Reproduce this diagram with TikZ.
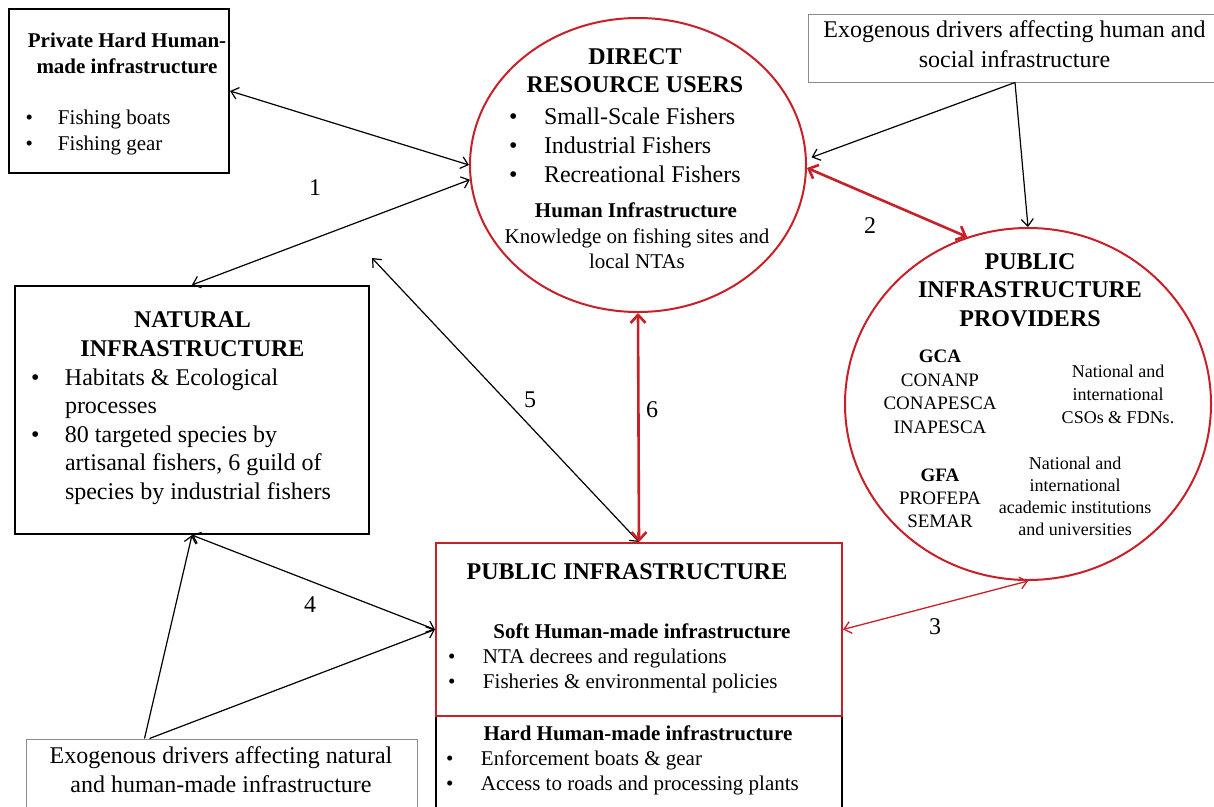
\documentclass[tikz,border=0pt]{standalone}
\usepackage{fontspec}
\setmainfont{Liberation Serif}
\usetikzlibrary{arrows.meta,shapes.geometric,calc}
\definecolor{dred}{RGB}{200,32,40}
\definecolor{bgray}{RGB}{140,140,140}
\newcommand\setfs[2]{\fontsize{#1}{#2}\selectfont}
\newcommand\bulletbox[1]{\makebox[#1][l]{•}}
\begin{document}
\begin{tikzpicture}[x=1pt,y=-1pt,
  thickbox/.style={draw=black,line width=2.2pt,inner sep=0pt,rectangle},
  thinbox/.style={draw=bgray,line width=1pt,inner sep=0pt,rectangle},
  redell/.style={draw=dred,line width=2pt,ellipse,inner sep=0pt},
  txt/.style={inner sep=0pt,outer sep=0pt},
  num/.style={inner sep=0pt,font=\setfs{24}{28}},
  barrow/.style={draw=black,line width=1.2pt,{Straight Barb[length=7pt,width=12pt]}-{Straight Barb[length=7pt,width=12pt]}},
  sarrow/.style={draw=black,line width=1.2pt,-{Straight Barb[length=7pt,width=12pt]}},
  rthick/.style={draw=dred,line width=2.6pt,{Straight Barb[length=8pt,width=15pt]}-{Straight Barb[length=8pt,width=15pt]}},
  rthin/.style={draw=dred,line width=1.3pt,{Straight Barb[length=7pt,width=12pt]}-{Straight Barb[length=7pt,width=12pt]}}
]
\useasboundingbox (0,0) rectangle (1214,806);
\clip (0,0) rectangle (1214,806);
\fill[white] (0,0) rectangle (1214,806);

% shapes
\node[thickbox,minimum width=220pt,minimum height=164pt] (priv) at (119,91) {};
\node[thickbox,minimum width=354pt,minimum height=248pt] (nat) at (192,410) {};
\node[draw=black,line width=2pt,inner sep=0pt,minimum width=406pt,minimum height=114pt] (hard) at (639,773) {};
\node[draw=dred,line width=2pt,inner sep=0pt,fill=white,minimum width=406pt,minimum height=173pt] (pub) at (639,629.5) {};
\node[thinbox,minimum width=414pt,minimum height=68pt] (exoT) at (1015,48) {};
\node[thinbox,minimum width=391pt,minimum height=91pt] (exoB) at (221.5,784.5) {};
\node[redell,minimum width=336pt,minimum height=294pt] (dru) at (638,165) {};
\node[redell,minimum width=366pt,minimum height=352pt] (pip) at (1028,404) {};

% texts: private box
\node[txt,anchor=north,align=center,font=\bfseries\setfs{21}{26}] (privT) at (127,32.5) {Private Hard Human-\\made infrastructure};
\node[txt,anchor=north west,align=left,font=\setfs{21}{26}] (privL) at (25.5,109.5) {\bulletbox{32.5pt}Fishing boats\\\bulletbox{32.5pt}Fishing gear};

% direct resource users
\node[txt,anchor=north,align=center,font=\bfseries\setfs{24}{28}] (druT) at (635,48.5) {DIRECT\\RESOURCE USERS};
\node[txt,anchor=north west,align=left,font=\setfs{24}{29}] (druL) at (509,107.5) {\bulletbox{35pt}Small-Scale Fishers\\\bulletbox{35pt}Industrial Fishers\\\bulletbox{35pt}Recreational Fishers};
\node[txt,anchor=north,font=\bfseries\setfs{21}{25}] (druH) at (636,202.5) {Human Infrastructure};
\node[txt,anchor=north,align=center,font=\setfs{21}{25}] (druK) at (637,228.5) {Knowledge on fishing sites and\\local NTAs};

% public infrastructure providers
\node[txt,anchor=north,align=center,font=\bfseries\setfs{24}{28.5}] (pipT) at (1030,253.5) {PUBLIC\\INFRASTRUCTURE\\PROVIDERS};
\node[txt,anchor=north,align=center,font=\setfs{19}{23.5}] (gca) at (940,350) {\textbf{GCA}\\CONANP\\CONAPESCA\\INAPESCA};
\node[txt,anchor=north,align=center,font=\setfs{18}{23}] (cso) at (1118,365.5) {National and\\international\\CSOs \& FDNs.};
\node[txt,anchor=north,align=center,font=\setfs{19}{23}] (gfa) at (940,469) {\textbf{GFA}\\PROFEPA\\SEMAR};
\node[txt,anchor=north,align=center,font=\setfs{18}{22}] (acad) at (1075,457.5) {National and\\international\\academic institutions\\and universities};

% natural infrastructure
\node[txt,anchor=north,align=center,font=\bfseries\setfs{24}{29}] (natT) at (192.5,311.5) {NATURAL\\INFRASTRUCTURE};
\node[txt,anchor=north west,align=left,font=\setfs{24}{28.5}] (natL) at (31,368.5) {\bulletbox{34pt}Habitats \& Ecological\\\hspace*{34pt}processes\\\bulletbox{34pt}80 targeted species by\\\hspace*{34pt}artisanal fishers, 6 guild of\\\hspace*{34pt}species by industrial fishers};

% public infrastructure
\node[txt,anchor=north,font=\bfseries\setfs{24}{28}] (pubT) at (627,563.5) {PUBLIC INFRASTRUCTURE};
\node[txt,anchor=north,font=\bfseries\setfs{21}{25}] (softT) at (642,623.5) {Soft Human-made infrastructure};
\node[txt,anchor=north west,align=left,font=\setfs{21}{25}] (softL) at (448,648.5) {\bulletbox{35pt}NTA decrees and regulations\\\bulletbox{35pt}Fisheries \& environmental policies};
\node[txt,anchor=north,font=\bfseries\setfs{21}{25}] (hardT) at (638,725.5) {Hard Human-made infrastructure};
\node[txt,anchor=north west,align=left,font=\setfs{21}{25}] (hardL) at (446,750.5) {\bulletbox{35pt}Enforcement boats \& gear\\\bulletbox{35pt}Access to roads and processing plants};

% exogenous boxes
\node[txt,anchor=north,align=center,font=\setfs{24}{30}] (exoTt) at (1014.5,20.5) {Exogenous drivers affecting human and\\social infrastructure};
\node[txt,anchor=north,align=center,font=\setfs{24}{29}] (exoBt) at (221,746.5) {Exogenous drivers affecting natural\\and human-made infrastructure};

% connectors
\draw[barrow] (priv.east) -- (dru.west);
\draw[barrow] (dru.185) -- (nat.north);
\coordinate (c5) at (372,258);
\draw[barrow] (c5) -- (pub.north);
\draw[rthick] (dru.south) -- (pub.north);
\draw[rthick] (dru.-1) -- (pip.110);
\draw[sarrow,shorten >=5pt] (exoT.south) -- (dru.2);
\draw[sarrow] (exoT.south) -- (pip.north);
\draw[rthin] (pub.east) -- (pip.south);
\draw[barrow] (nat.south) -- (pub.west);
\draw[sarrow] ($(exoB.north west)+(119,0)$) -- (nat.south);
\draw[sarrow] ($(exoB.north west)+(124,0)$) -- (pub.west);

% labels
\node[num] (n1) at (315,188) {1};
\node[num] (n2) at (870,226) {2};
\node[num] (n3) at (935,627) {3};
\node[num] (n4) at (310,605) {4};
\node[num] (n5) at (530,400) {5};
\node[num] (n6) at (652,410) {6};
\end{tikzpicture}
\end{document}
